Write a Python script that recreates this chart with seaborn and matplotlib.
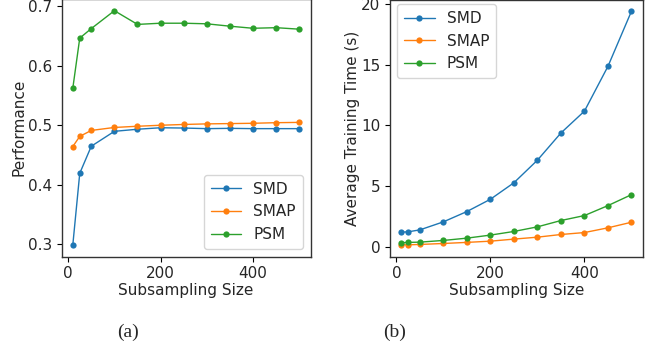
import numpy as np
import pandas as pd
import matplotlib
matplotlib.use("Agg")
import matplotlib.pyplot as plt
import seaborn as sns

sizes = [10, 25, 50, 100, 150, 200, 250, 300, 350, 400, 450, 500]
methods = ["SMD", "SMAP", "PSM"]

perf_smd = [0.299, 0.419, 0.4645, 0.4895, 0.493, 0.4955, 0.495, 0.494, 0.4945, 0.494, 0.494, 0.494]
perf_smap = [0.464, 0.481, 0.491, 0.496, 0.498, 0.4997, 0.501, 0.502, 0.5025, 0.503, 0.504, 0.5045]
perf_psm = [0.562, 0.646, 0.662, 0.692, 0.669, 0.671, 0.671, 0.670, 0.666, 0.6625, 0.6635, 0.661]

time_smd = [1.20, 1.23, 1.39, 2.05, 2.90, 3.91, 5.27, 7.13, 9.37, 11.17, 14.86, 19.40]
time_smap = [0.16, 0.16, 0.19, 0.27, 0.36, 0.46, 0.63, 0.79, 1.01, 1.17, 1.56, 2.02]
time_psm = [0.33, 0.36, 0.38, 0.52, 0.71, 0.96, 1.26, 1.64, 2.16, 2.57, 3.39, 4.29]

def long_df(series):
    rows = []
    for m, vals in zip(methods, series):
        for s, v in zip(sizes, vals):
            rows.append({"size": s, "value": v, "method": m})
    return pd.DataFrame(rows)

df_perf = long_df([perf_smd, perf_smap, perf_psm])
df_time = long_df([time_smd, time_smap, time_psm])

sns.set_style("ticks")
plt.rcParams["font.family"] = ["DejaVu Sans"]
FS = 11
plt.rcParams["font.size"] = FS

W, H = 655, 352
fig = plt.figure(figsize=(W / 100, H / 100), dpi=100)

def pos(x0, x1, ytop, ybot):
    return [x0 / W, 1 - ybot / H, (x1 - x0) / W, (ybot - ytop) / H]

ax1 = fig.add_axes(pos(61.5, 310.5, -1, 256.5))
ax2 = fig.add_axes(pos(389.5, 643, -0.5, 256.5))

palette = sns.color_palette("tab10", 3)

for ax, df, ylabel in [
    (ax1, df_perf, "Performance"),
    (ax2, df_time, "Average Training Time (s)"),
]:
    sns.lineplot(data=df, x="size", y="value", hue="method", hue_order=methods,
                 palette=palette, marker="o", markersize=4.5, markeredgewidth=0,
                 linewidth=1, ax=ax)
    ax.set_xlabel("Subsampling Size", fontsize=FS, labelpad=1.5)
    ax.set_ylabel(ylabel, fontsize=FS, labelpad=1)
    ax.tick_params(labelsize=FS, length=3.5, width=0.8, color="black", pad=3)
    for sp in ax.spines.values():
        sp.set_color("#333333")
        sp.set_linewidth(1.0)
        sp.set_visible(True)
    ax.set_xticks([0, 200, 400])

leg1 = ax1.legend(loc="lower right", fontsize=FS, frameon=True, handlelength=2.0,
                  borderpad=0.45, labelspacing=0.5)
leg2 = ax2.legend(loc="upper left", bbox_to_anchor=(0.0, 1.012), fontsize=FS,
                  frameon=True, handlelength=2.0, borderpad=0.45, labelspacing=0.5)
for leg in (leg1, leg2):
    leg.get_frame().set_edgecolor("#cccccc")

ax1.set_yticks([0.3, 0.4, 0.5, 0.6, 0.7])
ax2.set_yticks([0, 5, 10, 15, 20])

fig.text(128 / W, 1 - 332.5 / H, "(a)", fontsize=14, family=["Liberation Serif"],
         ha="center", va="center")
fig.text(395 / W, 1 - 332.5 / H, "(b)", fontsize=14, family=["Liberation Serif"],
         ha="center", va="center")

fig.savefig("out.png", dpi=100, facecolor="white")
